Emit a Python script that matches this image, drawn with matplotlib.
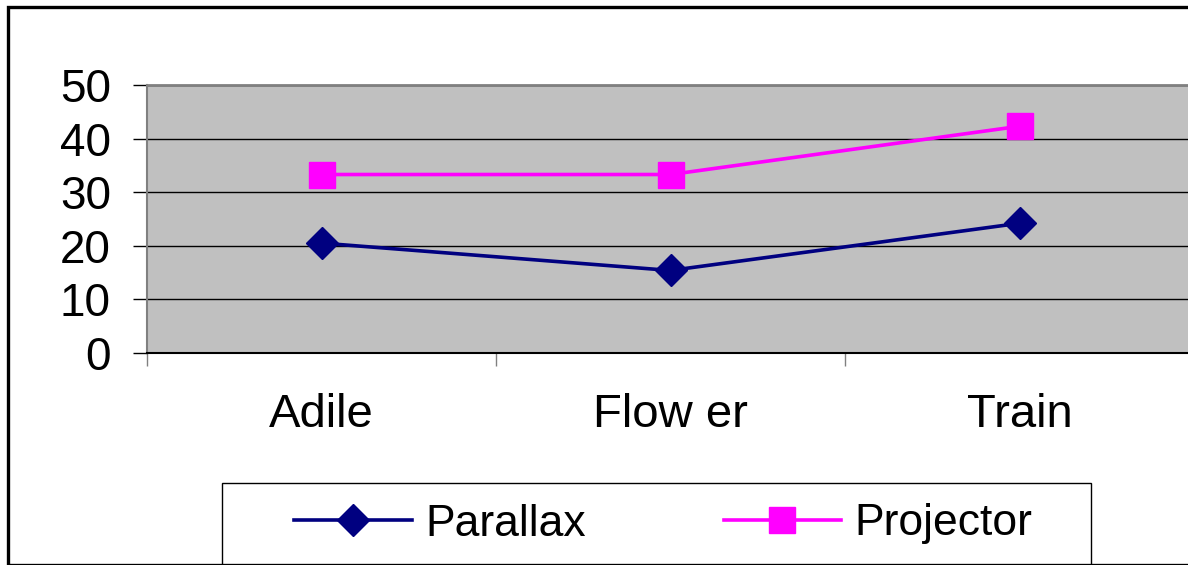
import matplotlib
matplotlib.use("Agg")
import matplotlib.pyplot as plt
from matplotlib.patches import Rectangle
from matplotlib.lines import Line2D

plt.rcParams['font.family'] = ['Liberation Sans', 'DejaVu Sans']

# data
categories = ['Adile', 'Flow er', 'Train']
parallax = [20.5, 15.4, 24.2]
projector = [33.3, 33.3, 42.3]
y_ticks = [0, 10, 20, 30, 40, 50]

W, H = 1188, 565
fig = plt.figure(figsize=(W / 100, H / 100), dpi=100)

# plot area runs past the right edge of the figure
ax = fig.add_axes([147 / W, 1 - 353 / H, 1047 / W, 268 / H])
ax.set_facecolor('#C0C0C0')

x = [0.5, 1.5, 2.5]
ax.plot(x, parallax, color='#000080', lw=2.6, marker='D', ms=16,
        mec='#000080', mfc='#000080', label='Parallax')
ax.plot(x, projector, color='#FF00FF', lw=2.6, marker='s', ms=18.5,
        mec='#FF00FF', mfc='#FF00FF', label='Projector')

ax.set_xlim(0, 3)
ax.set_ylim(0, 50)
ax.set_yticks(y_ticks)
ax.yaxis.grid(True, color='black', lw=1)
ax.set_axisbelow(True)
ax.tick_params(axis='y', direction='out', length=10, width=1, pad=16,
               labelsize=33, color='black')

ax.set_xticks(x)
ax.set_xticklabels(categories)
ax.set_xticks([0, 1, 2, 3], minor=True)
ax.tick_params(axis='x', which='major', length=0, pad=29, labelsize=34)
ax.tick_params(axis='x', which='minor', direction='out', length=9, width=1,
               color='#808080')

for side in ['top', 'right']:
    ax.spines[side].set_color('#808080')
    ax.spines[side].set_linewidth(2)
ax.spines['left'].set_color('#808080')
ax.spines['left'].set_linewidth(1.5)
ax.spines['bottom'].set_color('black')
ax.spines['bottom'].set_linewidth(1.5)

# outer chart border
fig.patches.append(Rectangle((8 / W, 0.5 / H), 1.2, 1 - 7.5 / H,
                             transform=fig.transFigure, fill=False,
                             ec='black', lw=2.4, clip_on=False))

# legend box
fig.patches.append(Rectangle((222 / W, -0.05), (1091 - 222) / W,
                             1 - 483 / H + 0.05, transform=fig.transFigure,
                             fill=False, ec='black', lw=1, clip_on=False))
handles = [
    Line2D([], [], color='#000080', lw=2.6, marker='D', ms=16),
    Line2D([], [], color='#FF00FF', lw=2.6, marker='s', ms=18.5),
]
fig.legend(handles, ['Parallax', 'Projector'], ncol=2, frameon=False,
           loc='center left', bbox_to_anchor=(294 / W, 1 - 524 / H),
           fontsize=32, handlelength=2.65, handletextpad=0.3,
           columnspacing=3.1, borderpad=0, borderaxespad=0)

fig.savefig('out.png', dpi=100)
